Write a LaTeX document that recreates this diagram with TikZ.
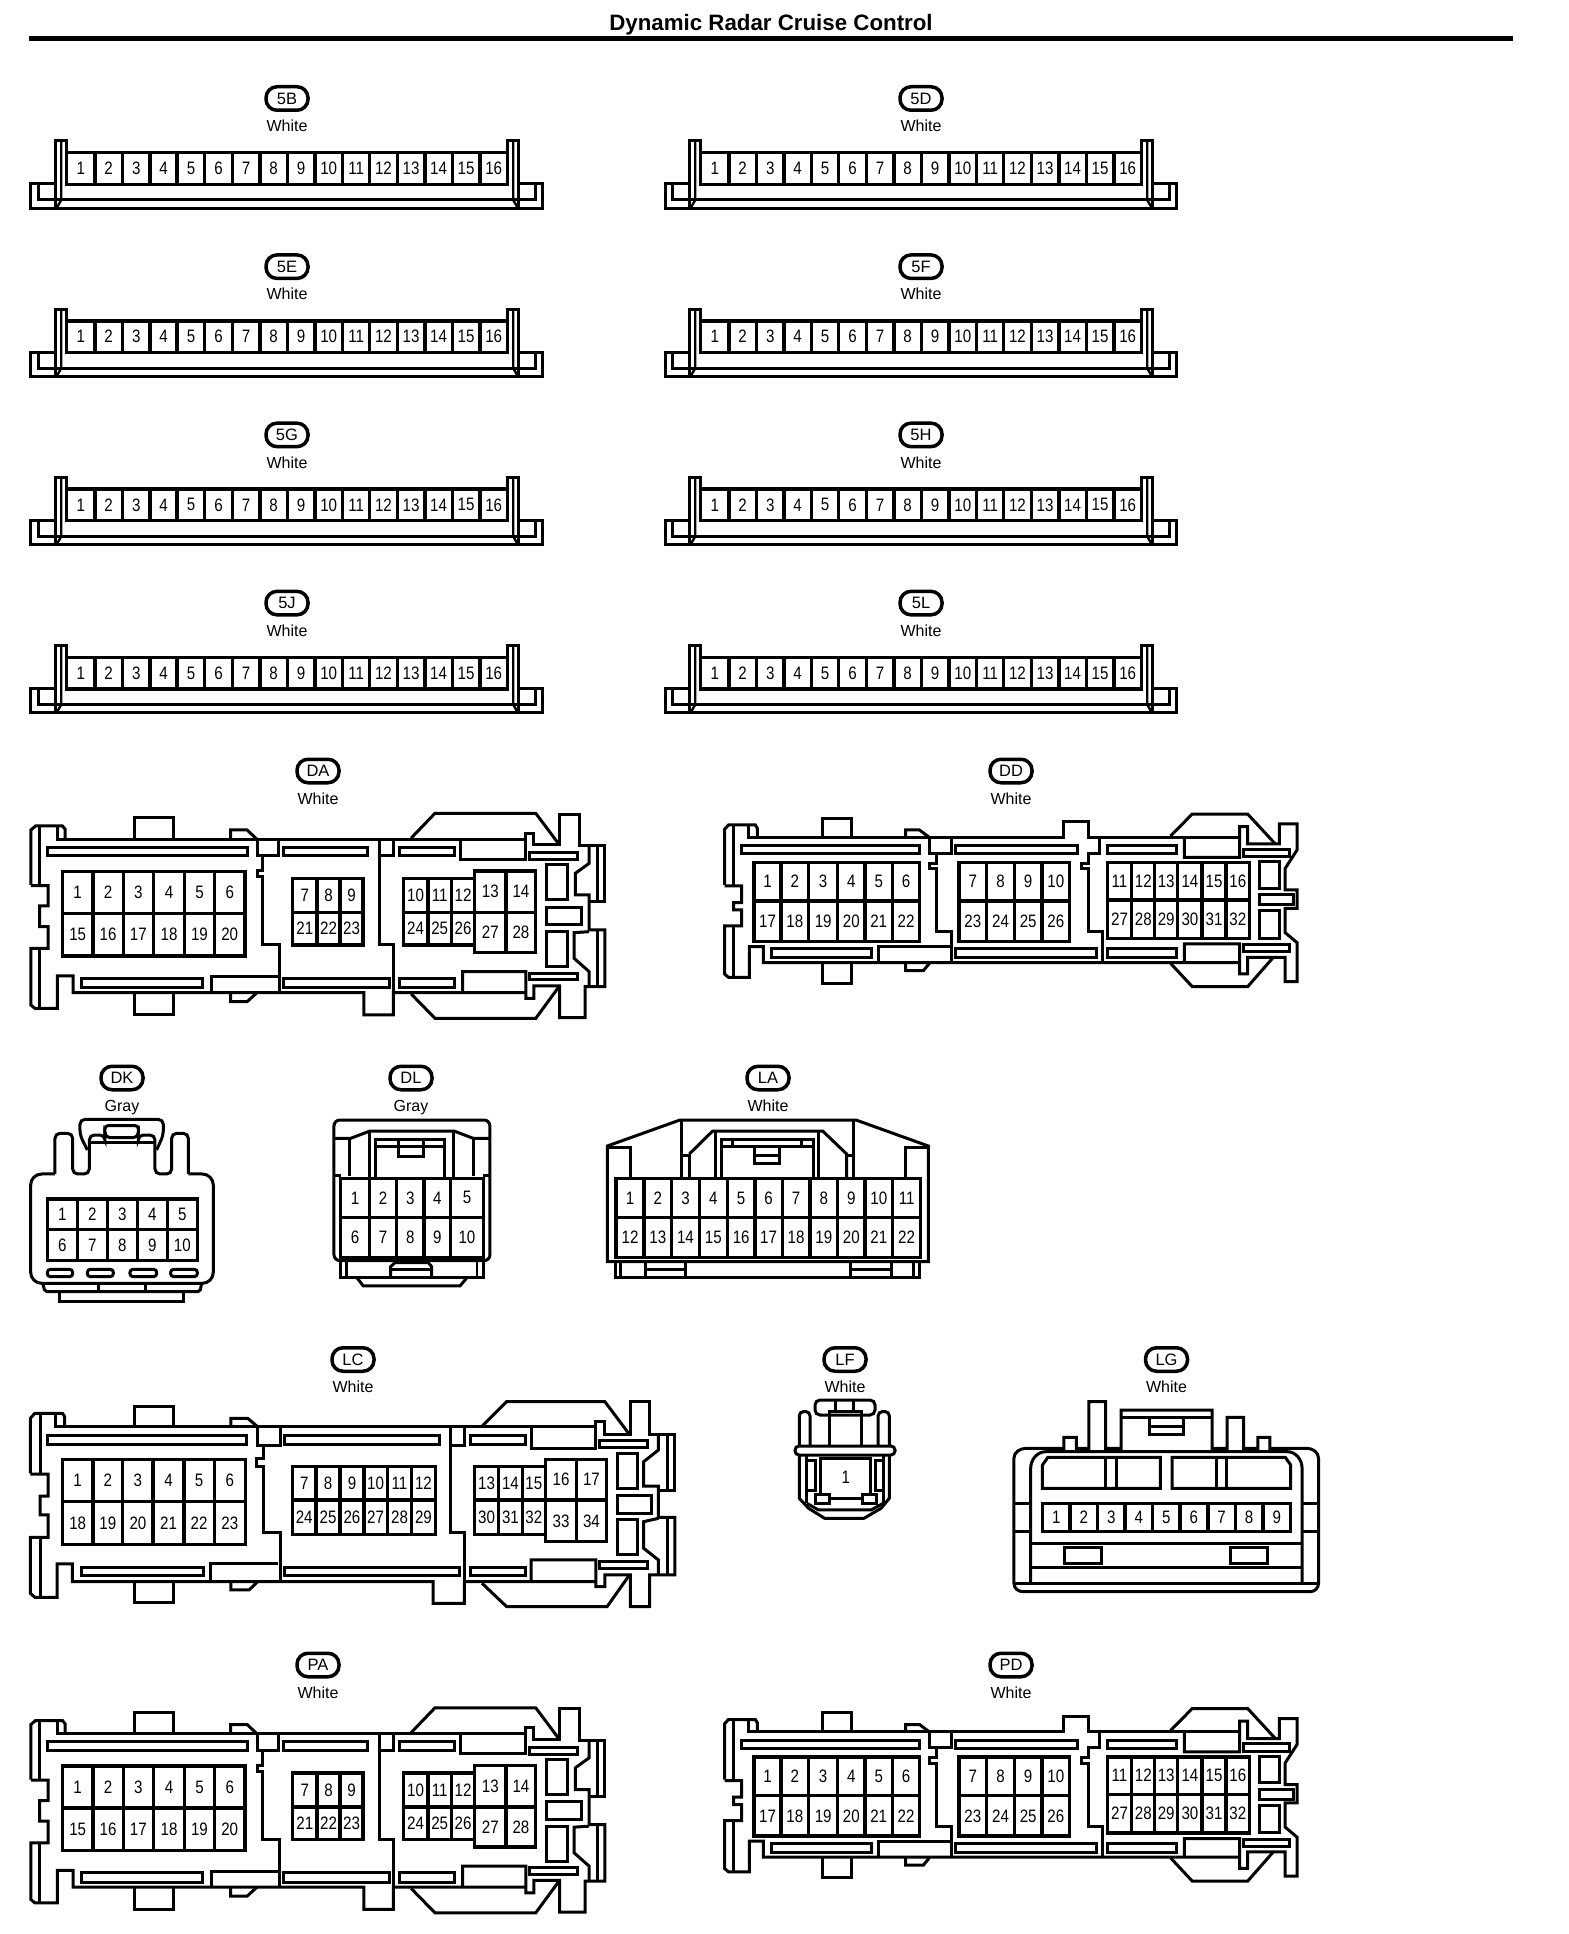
\documentclass[tikz,border=0pt]{standalone}
\usepackage{fontspec}
\setmainfont{Liberation Sans}
\newfontfamily\narrowdigits[FakeStretch=0.84]{Liberation Sans}
\tikzset{
  ln/.style={draw=black,line width=3pt,line join=miter},
  pinbox/.style={draw=black,line width=3.4pt},
  pinlabel/.style={inner sep=0pt,font=\narrowdigits\fontsize{18}{18}\selectfont},
  pill/.style={draw=black,line width=3.5pt,rounded corners=11pt,minimum width=42pt,minimum height=23.5pt,inner sep=0pt,font=\fontsize{16.5}{17}\selectfont},
  colourtext/.style={inner sep=0pt,anchor=base,font=\fontsize{16}{16}\selectfont},
}
% y0 y1 xstart rightedges first
\newcommand\pinrow[5]{%
  \foreach \xb [remember=\xb as \xa (initially #3),count=\n from #5] in {#4} {
    \draw[pinbox] (\xa,#1) rectangle (\xb,#2);
    \node[pinlabel] (pin\n) at ({(\xa+\xb)/2},{(#1+#2)/2}) {\n};
  }}
\newcommand\connlabel[5]{%
  \node[pill] (#1) at (#2pt,-#3pt) {#1};
  \node[colourtext] (#1-colour) at (#2pt,-#3pt-33.3pt) {#4};}
% 16 pin strip: name, shift x, shift y
\newcommand\stripconn[3]{%
\begin{scope}[shift={(#2pt,-#3pt)},x=0.3827pt,y=-0.3333pt,name prefix=#1-]
  \draw[ln] (146,552)--(81,552)--(81,625)--(1418,625)--(1418,552)--(1356,552);
  \draw[ln] (100,553)--(100,600)--(1400,600)--(1400,553);
  \draw[ln] (146,625)--(146,423)--(174,423)--(174,553)--(1326,553)--(1326,423)--(1356,423)--(1356,625);
  \draw[ln,line width=2.4pt] (160,423)--(160,600)--(149,622);
  \draw[ln,line width=2.4pt] (1341,423)--(1341,600)--(1352,622);
  \pinrow{458}{553}{174}{248,320,392,463,535,607,679,751,823,895,966,1038,1110,1182,1254,1326}{1}
\end{scope}}
% wide connector, two block (DA / PA) : name, shift y
\newcommand\bigconnA[2]{%
\begin{scope}[shift={(0pt,-#2pt)},x=0.3954pt,y=-0.3333pt,name prefix=#1-]
  \draw[ln] (78,405)--(78,240)--(90,228)--(158,228)--(165,238)--(165,268);
  \draw[ln] (100,232)--(100,405);
  \draw[ln] (145,232)--(145,268)--(1330,268);
  \draw[ln] (78,407)--(122,407)--(122,468)--(100,468)--(100,530)--(122,530)--(122,595)--(78,595)--(78,765)--(88,775)--(145,775)--(145,678)--(185,678)--(185,728)--(920,728)--(920,795)--(995,795)--(995,728)--(1330,728);
  \draw[ln] (100,598)--(100,772);
  \draw[ln] (340,268)--(340,203)--(440,203)--(440,268);
  \draw[ln] (340,728)--(340,795)--(440,795)--(440,728);
  \draw[ln] (583,268)--(583,240)--(625,240)--(650,268);
  \draw[ln] (583,728)--(583,755)--(625,755)--(650,728);
  \draw[ln] (650,268)--(650,318)--(665,318)--(665,362)--(650,362)--(650,380)--(665,380)--(665,585)--(708,585)--(708,728);
  \draw[ln] (705,268)--(705,318)--(650,318);
  \draw[ln] (960,268)--(960,585)--(995,585)--(995,728);
  \draw[ln] (995,268)--(995,318)--(960,318);
  \draw[ln] (1040,264)--(1100,190)--(1355,190)--(1415,285);
  \draw[ln] (1040,732)--(1100,805)--(1355,805)--(1415,708);
  \draw[ln] (1165,268)--(1165,328)--(1330,328)--(1330,250)--(1350,250)--(1350,285)--(1415,285)--(1415,192)--(1465,192)--(1465,288)--(1530,288)--(1530,455)--(1490,455);
  \draw[ln] (1490,290)--(1490,340)--(1455,370)--(1455,435)--(1490,435)--(1490,540)--(1530,540)--(1530,710)--(1480,710)--(1480,803)--(1415,803)--(1415,708)--(1350,708)--(1350,745)--(1330,745)--(1330,665)--(1170,665)--(1170,728);
  \draw[ln] (1510,290)--(1510,452);
  \draw[ln] (1510,543)--(1510,708);
  \draw[ln] (1490,545)--(1452,548)--(1452,625)--(1490,665)--(1490,708);
  \draw[ln] (120,292) rectangle (625,318);
  \draw[ln] (718,292) rectangle (930,318);
  \draw[ln] (1010,292) rectangle (1150,318);
  \draw[ln] (1338,308) rectangle (1460,330);
  \draw[ln] (205,685) rectangle (513,713);
  \draw[ln] (718,685) rectangle (985,713);
  \draw[ln] (1010,685) rectangle (1150,713);
  \draw[ln] (1338,670) rectangle (1460,690);
  \draw[ln] (535,725)--(535,680)--(705,680);
  \draw[ln] (1383,345) rectangle (1435,450);
  \draw[ln] (1383,472) rectangle (1470,525);
  \draw[ln] (1383,545) rectangle (1435,650);
  \pinrow{365}{490}{158}{235,312,388,467,542,620}{1}
  \pinrow{490}{618}{158}{235,312,388,467,542,620}{15}
  \pinrow{385}{487}{740}{802,860,918}{7}
  \pinrow{487}{585}{740}{802,860,918}{21}
  \pinrow{385}{487}{1020}{1082,1142,1200}{10}
  \pinrow{487}{585}{1020}{1082,1142,1200}{24}
  \pinrow{363}{487}{1200}{1280,1355}{13}
  \pinrow{487}{608}{1200}{1280,1355}{27}
\end{scope}}
% wide connector, three block (DD / PD)
\newcommand\bigconnD[2]{%
\begin{scope}[shift={(700pt,-#2pt)},x=0.3954pt,y=-0.3333pt,name prefix=#1-]
  \draw[ln] (62,405)--(62,238)--(72,225)--(140,225)--(145,235)--(145,262);
  \draw[ln] (85,228)--(85,405);
  \draw[ln] (122,228)--(122,262)--(920,262)--(920,215)--(983,215)--(983,262)--(1365,262);
  \draw[ln] (62,408)--(105,408)--(105,458)--(85,458)--(85,480)--(105,480)--(105,528)--(62,528)--(62,672)--(72,682)--(125,682)--(125,590)--(160,590)--(160,638)--(1190,638)--(1365,638);
  \draw[ln] (85,530)--(85,680);
  \draw[ln] (310,262)--(310,205)--(383,205)--(383,262);
  \draw[ln] (310,638)--(310,700)--(383,700)--(383,638);
  \draw[ln] (520,262)--(520,240)--(555,240)--(580,262);
  \draw[ln] (520,638)--(520,662)--(565,662)--(580,640);
  \draw[ln] (580,262)--(580,310)--(597,310)--(597,340)--(580,340)--(580,357)--(597,357)--(597,545)--(637,545)--(637,638);
  \draw[ln] (637,262)--(637,310)--(580,310);
  \draw[ln] (1010,262)--(1010,310)--(983,310)--(983,340)--(965,340)--(965,357)--(983,357)--(983,545)--(1017,545)--(1017,638);
  \draw[ln] (1190,258)--(1245,192)--(1385,192)--(1455,282);
  \draw[ln] (1190,640)--(1245,710)--(1385,710)--(1450,622);
  \draw[ln] (1225,262)--(1225,322)--(1365,322)--(1365,230)--(1385,230)--(1385,282)--(1465,282)--(1465,222)--(1510,222)--(1510,300)--(1480,355)--(1480,420)--(1510,420)--(1510,475)--(1480,475)--(1480,548)--(1510,578)--(1510,695)--(1480,695)--(1480,622)--(1385,622)--(1385,672)--(1365,672)--(1365,582)--(1225,582)--(1225,638);
  \draw[ln] (105,287) rectangle (555,312);
  \draw[ln] (645,287) rectangle (955,312);
  \draw[ln] (1030,287) rectangle (1205,312);
  \draw[ln] (1375,298) rectangle (1490,320);
  \draw[ln] (180,597) rectangle (433,623);
  \draw[ln] (645,597) rectangle (1003,623);
  \draw[ln] (1030,597) rectangle (1205,623);
  \draw[ln] (1375,585) rectangle (1490,605);
  \draw[ln] (452,635)--(452,590)--(637,590);
  \draw[ln] (1415,335) rectangle (1465,415);
  \draw[ln] (1415,435) rectangle (1500,465);
  \draw[ln] (1415,482) rectangle (1465,565);
  \pinrow{337}{453}{137}{205,275,348,417,487,555}{1}
  \pinrow{453}{575}{137}{205,275,348,417,487,555}{17}
  \pinrow{337}{453}{655}{725,795,865,935}{7}
  \pinrow{453}{575}{655}{725,795,865,935}{23}
  \pinrow{337}{450}{1030}{1092,1150,1208,1270,1330,1390}{11}
  \pinrow{450}{565}{1030}{1092,1150,1208,1270,1330,1390}{27}
\end{scope}}
\begin{document}
\begin{tikzpicture}[x=1pt,y=-1pt]
\useasboundingbox (0,0) rectangle (1568,1934);
\fill[white] (0,0) rectangle (1568,1934);
\node[inner sep=0pt,font=\bfseries\fontsize{22.3}{23}\selectfont] (title) at (771,24.5) {Dynamic Radar Cruise Control};
\coordinate (ruleL) at (29,38.5);
\coordinate (ruleR) at (1513,38.5);
\draw[line width=5pt] (ruleL)--(ruleR);
% strip connectors
\foreach \nm/\lx/\sx/\ly/\sy in {5B/287/0/98.5/0,5E/287/0/266.7/168.2,5G/287/0/434.9/336.4,5J/287/0/603.1/504.6,5D/921/634/98.5/0,5F/921/634/266.7/168.2,5H/921/634/434.9/336.4,5L/921/634/603.1/504.6}{
  \connlabel{\nm}{\lx}{\ly}{White}{}
  \stripconn{\nm}{\sx}{\sy}
}
% DA, DD
\connlabel{DA}{318}{771}{White}{}
\bigconnA{DA}{750}
\connlabel{DD}{1011}{771}{White}{}
\bigconnD{DD}{750}
% DK
\connlabel{DK}{122}{1078}{Gray}{}
\begin{scope}[shift={(0pt,-1050pt)},x=0.3333pt,y=-0.3333pt,name prefix=DK-]
  \draw[ln,rounded corners=5pt] (165,372)--(165,250)--(218,250)--(218,372)--(268,372)--(268,255)--(315,255)--(315,263)--(415,263)--(415,255)--(465,255)--(465,372)--(515,372)--(515,250)--(565,250)--(565,372);
  \draw[ln,rounded corners=11pt] (165,372)--(92,372)--(92,700)--(640,700)--(640,372)--(565,372);
  \draw[ln,rounded corners=5pt] (262,300)--(240,255)--(240,208)--(490,208)--(490,255)--(470,300);
  \draw[ln] (268,278)--(465,278);
  \draw[ln,rounded corners=3pt] (315,263)--(315,227)--(415,227)--(415,263);
  \draw[ln,rounded corners=2pt] (128,700)--(135,725)--(600,725)--(605,700);
  \draw[ln] (297,705)--(297,725);
  \draw[ln] (437,705)--(437,725);
  \draw[ln] (178,728)--(178,755)--(552,755)--(552,728);
  \draw[ln,rounded corners=3pt] (142,658) rectangle (218,680);
  \draw[ln,rounded corners=3pt] (262,658) rectangle (340,680);
  \draw[ln,rounded corners=3pt] (390,658) rectangle (470,680);
  \draw[ln,rounded corners=3pt] (512,658) rectangle (592,680);
  \pinrow{447}{538}{142}{232,322,412,502,592}{1}
  \pinrow{538}{632}{142}{232,322,412,502,592}{6}
\end{scope}
% DL
\connlabel{DL}{411}{1078}{Gray}{}
\begin{scope}[shift={(0pt,-1050pt)},x=0.3333pt,y=-0.3333pt,name prefix=DL-]
  \draw[ln,rounded corners=6pt] (1002,210) rectangle (1470,632);
  \draw[ln] (1002,265)--(1052,265)--(1110,243)--(1362,243)--(1420,265)--(1470,265);
  \draw[ln] (1050,265)--(1050,378);
  \draw[ln] (1110,243)--(1110,380);
  \draw[ln] (1362,243)--(1362,380);
  \draw[ln] (1420,265)--(1420,378);
  \draw[ln] (1002,378)--(1022,378);
  \draw[ln] (1450,378)--(1470,378);
  \draw[ln] (1128,382)--(1128,268)--(1335,268)--(1335,382);
  \draw[ln] (1128,290)--(1335,290);
  \draw[ln] (1195,270)--(1195,318)--(1270,318)--(1270,270);
  \pinrow{385}{502}{1022}{1108,1190,1272,1352,1450}{1}
  \pinrow{502}{622}{1022}{1108,1190,1272,1352,1450}{6}
  \draw[ln] (1022,632)--(1022,682)--(1450,682)--(1450,632);
  \draw[ln] (1070,682)--(1090,708)--(1380,708)--(1402,682);
  \draw[ln,line width=2.4pt] (1040,635)--(1040,680);
  \draw[ln,line width=2.4pt] (1432,635)--(1432,680);
  \draw[ln] (1172,682)--(1172,650)--(1185,638)--(1285,638)--(1295,650)--(1295,682);
  \draw[ln] (1172,658)--(1295,658);
\end{scope}
% LA
\connlabel{LA}{768}{1078}{White}{}
\begin{scope}[shift={(580pt,-1050pt)},x=0.3333pt,y=-0.3333pt,name prefix=LA-]
  \draw[ln] (82,635)--(82,288)--(300,210)--(828,210)--(1045,288)--(1045,635)--cycle;
  \draw[ln] (85,292)--(150,292)--(150,380);
  \draw[ln] (1042,292)--(978,292)--(978,380);
  \draw[ln] (305,212)--(305,385);
  \draw[ln] (305,315)--(328,315)--(328,385);
  \draw[ln] (328,312)--(398,243)--(728,243)--(800,312)--(800,385);
  \draw[ln] (800,315)--(822,315);
  \draw[ln] (822,212)--(822,385);
  \draw[ln] (408,243)--(408,380);
  \draw[ln] (715,245)--(715,380);
  \pinrow{385}{503}{108}{192,275,358,442,525,607,690,773,855,938,1022}{1}
  \pinrow{503}{622}{108}{192,275,358,442,525,607,690,773,855,938,1022}{12}
  \draw[ln] (425,383)--(425,268)--(700,268)--(700,383);
  \draw[ln] (425,290)--(700,290);
  \draw[ln] (458,270)--(458,290);
  \draw[ln] (665,270)--(665,290);
  \draw[ln] (525,292)--(525,340)--(600,340)--(600,292);
  \draw[ln] (525,315)--(600,315);
  \draw[ln] (105,635)--(105,682)--(1020,682)--(1020,635);
  \draw[ln,line width=2.4pt] (122,638)--(122,680);
  \draw[ln,line width=2.4pt] (1000,638)--(1000,680);
  \draw[ln] (195,638)--(195,680);
  \draw[ln] (318,638)--(318,680);
  \draw[ln] (195,660)--(318,660);
  \draw[ln] (812,638)--(812,680);
  \draw[ln] (935,638)--(935,680);
  \draw[ln] (812,660)--(935,660);
\end{scope}
% LC
\connlabel{LC}{353}{1359.5}{White}{}
\begin{scope}[shift={(0pt,-1340pt)},x=0.4464pt,y=-0.3333pt,name prefix=LC-]
  \draw[ln] (68,400)--(68,235)--(78,220)--(140,220)--(145,230)--(145,258);
  \draw[ln] (90,225)--(90,400);
  \draw[ln] (125,225)--(125,260)--(1335,260);
  \draw[ln] (68,402)--(108,402)--(108,468)--(90,468)--(90,525)--(108,525)--(108,592)--(68,592)--(68,760)--(78,772)--(128,772)--(128,672)--(162,672)--(162,725)--(970,725)--(970,790)--(1040,790)--(1040,725)--(1335,725);
  \draw[ln] (90,595)--(90,770);
  \draw[ln] (302,260)--(302,198)--(388,198)--(388,260);
  \draw[ln] (302,725)--(302,788)--(388,788)--(388,725);
  \draw[ln] (517,260)--(517,235)--(555,235)--(577,260);
  \draw[ln] (517,725)--(517,750)--(558,750)--(577,725);
  \draw[ln] (577,260)--(577,315)--(590,315)--(590,355)--(575,355)--(575,378)--(590,378)--(590,578)--(628,578)--(628,725);
  \draw[ln] (628,260)--(628,315)--(577,315);
  \draw[ln] (1010,260)--(1010,578)--(1040,578)--(1040,725);
  \draw[ln] (1040,260)--(1040,315)--(1010,315);
  \draw[ln] (1080,258)--(1135,185)--(1355,185)--(1410,283);
  \draw[ln] (1080,730)--(1135,800)--(1360,800)--(1410,705);
  \draw[ln] (1190,260)--(1190,325)--(1335,325)--(1335,243)--(1355,243)--(1355,283)--(1412,283)--(1412,185)--(1455,185)--(1455,283)--(1512,283)--(1512,450)--(1475,450);
  \draw[ln] (1475,285)--(1475,330)--(1442,365)--(1442,438)--(1475,438)--(1475,532)--(1512,532)--(1512,705)--(1455,705)--(1455,800)--(1412,800)--(1412,705)--(1355,705)--(1355,740)--(1335,740)--(1335,660)--(1190,660)--(1190,725);
  \draw[ln] (1495,285)--(1495,447);
  \draw[ln] (1495,535)--(1495,702);
  \draw[ln] (1475,535)--(1442,545)--(1442,625)--(1475,660)--(1475,705);
  \draw[ln] (107,287) rectangle (553,313);
  \draw[ln] (637,285) rectangle (985,313);
  \draw[ln] (1055,287) rectangle (1177,313);
  \draw[ln] (1343,300) rectangle (1450,323);
  \draw[ln] (182,682) rectangle (455,708);
  \draw[ln] (637,682) rectangle (1030,708);
  \draw[ln] (1055,682) rectangle (1177,708);
  \draw[ln] (1343,665) rectangle (1450,685);
  \draw[ln] (472,722)--(472,672)--(622,672);
  \draw[ln] (1383,340) rectangle (1427,445);
  \draw[ln] (1383,465) rectangle (1460,520);
  \draw[ln] (1383,540) rectangle (1427,645);
  \pinrow{358}{485}{140}{208,275,343,412,480,550}{1}
  \pinrow{485}{613}{140}{208,275,343,412,480,550}{18}
  \pinrow{380}{480}{655}{708,762,815,868,922,975}{7}
  \pinrow{480}{583}{655}{708,762,815,868,922,975}{24}
  \pinrow{380}{480}{1063}{1117,1170,1222}{13}
  \pinrow{480}{583}{1063}{1117,1170,1222}{30}
  \pinrow{358}{480}{1222}{1292,1358}{16}
  \pinrow{480}{605}{1222}{1292,1358}{33}
\end{scope}
% LF
\connlabel{LF}{845}{1359.5}{White}{}
\begin{scope}[shift={(780pt,-1340pt)},x=0.3571pt,y=-0.3333pt,name prefix=LF-]
  \draw[ln,line join=round] (54,345)--(54,475)--(80,505)--(125,535)--(235,535)--(283,505)--(306,475)--(306,345);
  \draw[ln,rounded corners=4pt] (42,318) rectangle (322,345);
  \draw[ln,rounded corners=4pt] (54,318)--(54,215)--(84,215)--(84,318);
  \draw[ln,rounded corners=4pt] (275,318)--(275,215)--(306,215)--(306,318);
  \draw[ln,rounded corners=5pt] (98,180) rectangle (266,225);
  \draw[ln] (154,183)--(154,212);
  \draw[ln] (207,183)--(207,212);
  \draw[ln] (138,318)--(138,215)--(229,215)--(229,318);
  \draw[ln] (112,462)--(112,355)--(252,355)--(252,462);
  \node[pinlabel] (pin1) at (184,412) {1};
  \draw[ln] (98,462) rectangle (138,490);
  \draw[ln] (231,462) rectangle (271,490);
  \draw[ln] (138,476)--(231,476);
  \draw[ln] (75,348)--(75,490);
  \draw[ln] (289,348)--(289,490);
  \draw[ln] (75,360)--(98,360)--(98,450)--(75,450);
  \draw[ln] (289,360)--(266,360)--(266,450)--(289,450);
  \draw[ln] (75,490)--(108,510)--(255,510)--(289,490);
\end{scope}
% LG
\connlabel{LG}{1166.5}{1359.5}{White}{}
\begin{scope}[shift={(780pt,-1340pt)},x=0.3571pt,y=-0.3333pt,name prefix=LG-]
  \draw[ln] (655,355) to[out=90,in=180] (690,325)--(795,325)--(795,292)--(830,292)--(830,325)--(865,325)--(865,185)--(912,185)--(912,325)--(955,325)--(955,210)--(1210,210)--(1210,325)--(1252,325)--(1252,232)--(1298,232)--(1298,325)--(1338,325)--(1338,292)--(1372,292)--(1372,325)--(1475,325) to[out=0,in=90] (1508,355)--(1508,730) to[out=-90,in=0] (1485,755)--(680,755) to[out=180,in=-90] (655,730)--cycle;
  \draw[ln] (702,728)--(702,385) to[out=90,in=180] (745,335)--(1420,335) to[out=0,in=90] (1462,385)--(1462,728);
  \draw[ln] (655,732)--(1508,732);
  \draw[ln] (702,610)--(1462,610);
  \draw[ln] (702,682)--(1462,682);
  \draw[ln] (958,232)--(1207,232);
  \draw[ln] (1035,235)--(1035,282)--(1130,282)--(1130,235);
  \draw[ln] (1035,260)--(1130,260);
  \draw[ln] (735,445)--(735,375)--(750,352)--(1065,352)--(1065,445)--cycle;
  \draw[ln] (912,352)--(912,445);
  \draw[ln] (942,352)--(942,445);
  \draw[ln] (1098,352)--(1415,352)--(1430,375)--(1430,445)--(1098,445)--cycle;
  \draw[ln] (1222,352)--(1222,445);
  \draw[ln] (1250,352)--(1250,445);
  \draw[ln] (655,490)--(702,490);
  \draw[ln] (655,575)--(702,575);
  \draw[ln] (1462,490)--(1508,490);
  \draw[ln] (1462,575)--(1508,575);
  \draw[ln] (798,622) rectangle (900,672);
  \draw[ln] (1262,622) rectangle (1365,672);
  \pinrow{490}{575}{735}{812,889,966,1043,1120,1198,1275,1352,1430}{1}
\end{scope}
% PA, PD
\connlabel{PA}{318}{1665}{White}{}
\bigconnA{PA}{1644.5}
\connlabel{PD}{1011}{1665}{White}{}
\bigconnD{PD}{1644.5}
\end{tikzpicture}
\end{document}
